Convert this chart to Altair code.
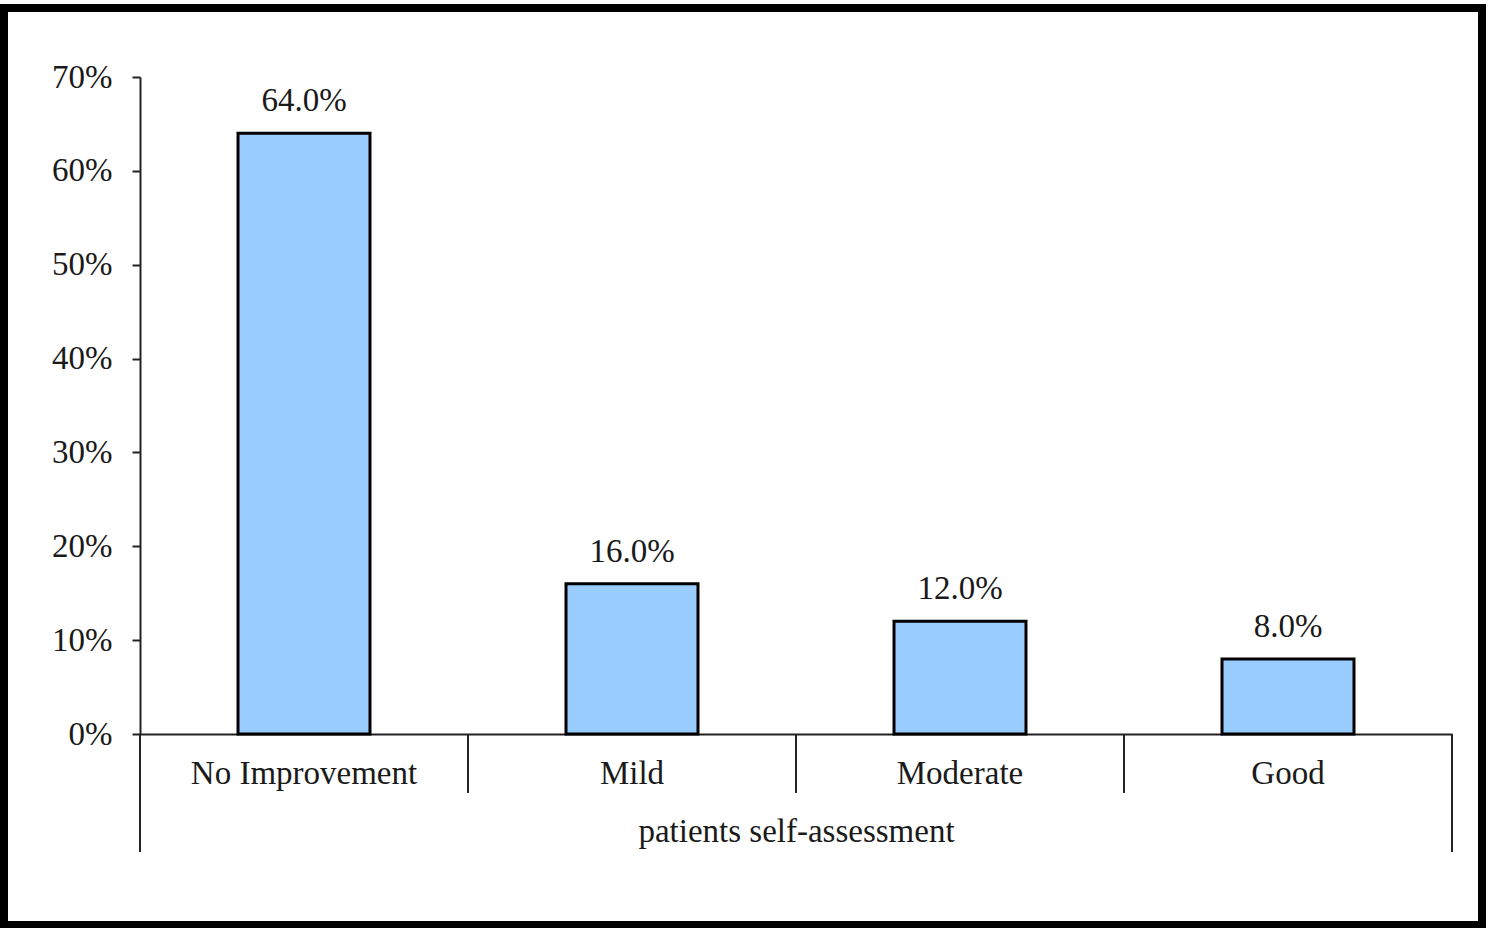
import altair as alt
import pandas as pd

categories = ["No Improvement", "Mild", "Moderate", "Good"]
values = [0.64, 0.16, 0.12, 0.08]
y_ticks = [0, 0.1, 0.2, 0.3, 0.4, 0.5, 0.6, 0.7]
divider_pos = [1, 2, 3]
end_pos = [0, 4]

FONT = "Liberation Serif"
FS = 33
W, H = 1312, 657

df = pd.DataFrame({"cat": categories, "val": values})
div_df = pd.DataFrame({"p": divider_pos})
end_df = pd.DataFrame({"p": end_pos})
frame_df = pd.DataFrame({"a": [0]})

xscale = alt.Scale(domain=categories, paddingInner=0.5976, paddingOuter=0.2988)
yscale = alt.Scale(domain=[0, 0.7], nice=False)

bars = alt.Chart(df).mark_bar(color="#99CCFF", stroke="#000000", strokeWidth=3).encode(
    x=alt.X("cat:N", scale=xscale, sort=categories,
            axis=alt.Axis(title="patients self-assessment", labelAngle=0, ticks=False, tickSize=0,
                          labelPadding=23, titlePadding=25, domainColor="#222222", domainWidth=2,
                          labelLimit=0,
                          labelFont=FONT, labelFontSize=FS, labelColor="#1a1a1a",
                          titleFont=FONT, titleFontSize=FS, titleFontWeight="normal", titleColor="#1a1a1a")),
    y=alt.Y("val:Q", scale=yscale,
            axis=alt.Axis(values=y_ticks, format=".0%", title=None, grid=False, tickSize=8,
                          labelPadding=20, domainColor="#222222", domainWidth=2, tickColor="#222222",
                          tickWidth=2, labelFont=FONT, labelFontSize=FS, labelColor="#1a1a1a")),
)

labels = alt.Chart(df).mark_text(font=FONT, fontSize=FS, color="#1a1a1a", baseline="alphabetic", dy=-22).encode(
    x=alt.X("cat:N", scale=xscale, sort=categories),
    y=alt.Y("val:Q", scale=yscale),
    text=alt.Text("val:Q", format=".1%"),
)

main = alt.layer(bars, labels)

qx = alt.Scale(domain=[0, 4], nice=False, zero=False)

dividers = alt.Chart(div_df).mark_rule(color="#222222", strokeWidth=2).encode(
    x=alt.X("p:Q", scale=qx, axis=None),
    y=alt.datum(0),
    y2=alt.value(H + 59),
)
ends = alt.Chart(end_df).mark_rule(color="#222222", strokeWidth=2).encode(
    x=alt.X("p:Q", scale=qx, axis=None),
    y=alt.datum(0),
    y2=alt.value(H + 118),
)
rules = alt.layer(dividers, ends)

frame = alt.Chart(frame_df).mark_rect(fillOpacity=0, stroke="#000000", strokeWidth=8).encode(
    x=alt.value(-136), x2=alt.value(1342), y=alt.value(-69), y2=alt.value(848)
)

chart = alt.layer(main, rules, frame).resolve_scale(x="independent").properties(
    width=W, height=H,
    autosize=alt.AutoSizeParams(type="none"),
    padding={"left": 140, "top": 77, "right": 42, "bottom": 194},
    background="white",
).configure_view(stroke=None)

chart.save("out.html", embed_options={"renderer": "svg", "actions": False})
